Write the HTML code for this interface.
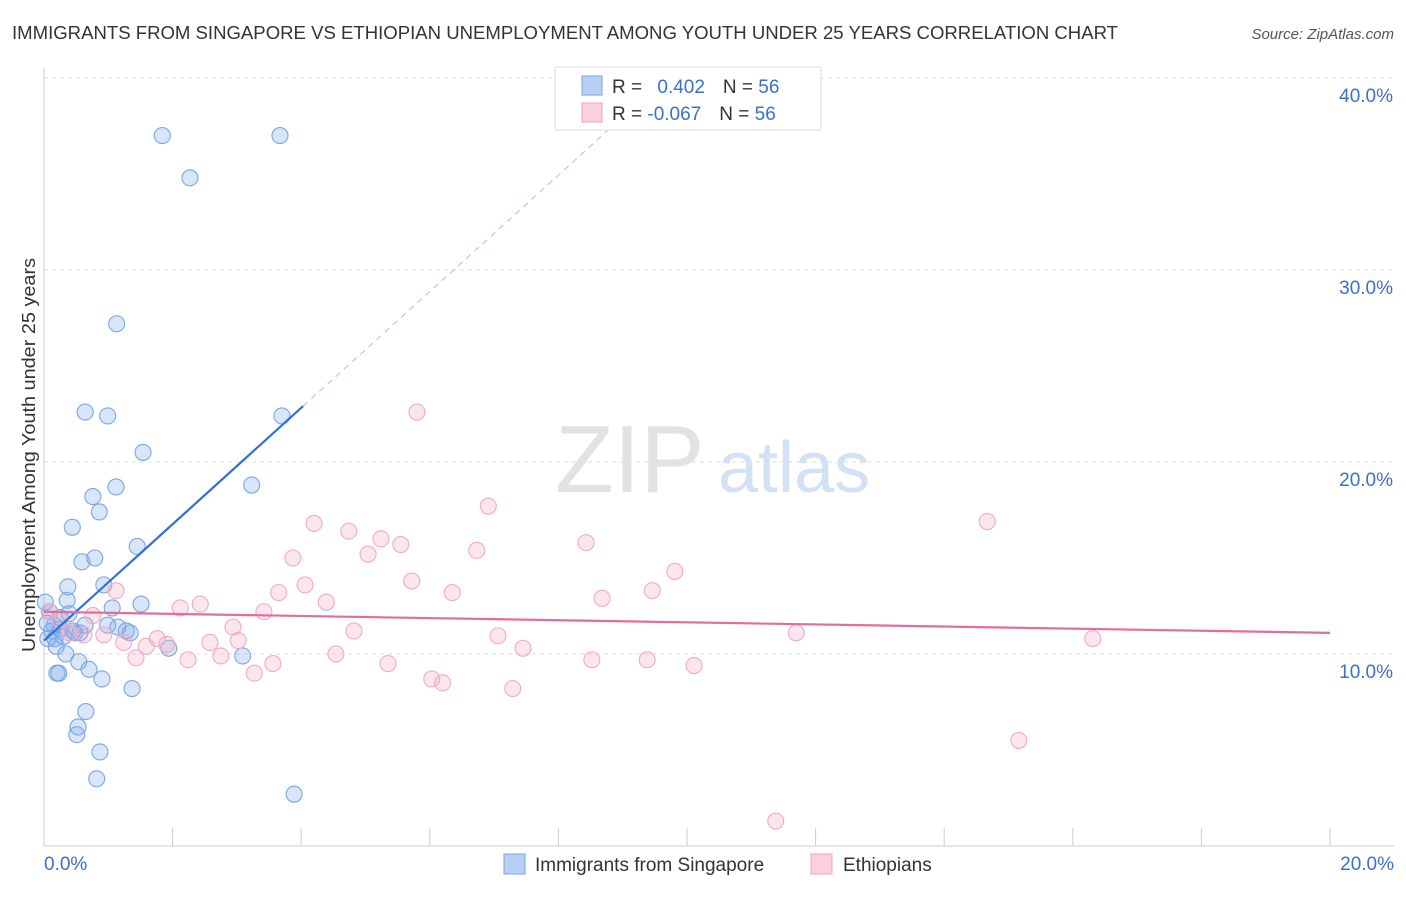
<!DOCTYPE html>
<html><head><meta charset="utf-8"><style>
body{margin:0;background:#fff;font-family:"Liberation Sans",sans-serif;}
svg text{font-family:"Liberation Sans",sans-serif;}
</style></head><body>
<svg width="1406" height="892" xmlns="http://www.w3.org/2000/svg">
<text x="12" y="39" font-size="18" fill="#333" textLength="1106" lengthAdjust="spacingAndGlyphs">IMMIGRANTS FROM SINGAPORE VS ETHIOPIAN UNEMPLOYMENT AMONG YOUTH UNDER 25 YEARS CORRELATION CHART</text>
<text x="1394" y="39" font-size="15" fill="#555" font-style="italic" text-anchor="end">Source: ZipAtlas.com</text>
<g id="grid"></g>
<text x="555" y="492" font-size="96" fill="#e2e2e2" font-family="Liberation Serif">ZIP</text>
<text x="718" y="492" font-size="72" fill="#d3e1f5">atlas</text>
<g id="marks"></g>
<text x="35" y="455" font-size="18" fill="#333" text-anchor="middle" textLength="394" lengthAdjust="spacingAndGlyphs" transform="rotate(-90 35 455)">Unemployment Among Youth under 25 years</text>
<g>
<rect x="555" y="67" width="266" height="63" fill="#fff" stroke="#ddd"/>
<rect x="582" y="76" width="20" height="19" fill="#b8d0f5" stroke="#7aa5e5"/>
<rect x="582" y="103" width="20" height="19" fill="#fbd0dd" stroke="#f0a0bc"/>
<text x="612" y="93" font-size="19" fill="#333">R = <tspan fill="#3a6fd0" dx="10">0.402</tspan><tspan dx="18" fill="#333">N = </tspan><tspan fill="#3a6fd0">56</tspan></text>
<text x="612" y="120" font-size="19" fill="#333">R = <tspan fill="#3a6fd0">-0.067</tspan><tspan dx="18" fill="#333">N = </tspan><tspan fill="#3a6fd0">56</tspan></text>
</g>
<g>
<rect x="504" y="854" width="21" height="20" fill="#b8d0f5" stroke="#7aa5e5"/>
<text x="535" y="871" font-size="19" fill="#333">Immigrants from Singapore</text>
<rect x="811" y="854" width="21" height="20" fill="#fbd0dd" stroke="#f0a0bc"/>
<text x="843" y="871" font-size="19" fill="#333">Ethiopians</text>
</g>
</svg>
<script>
const xTicks=[0,2,4,6,8,10,12,14,16,18,20];
const yTicks=[10,20,30,40];
const yTickLabels=["10.0%","20.0%","30.0%","40.0%"];
const blueX=[1.84,3.67,2.27,1.13,0.64,0.99,3.70,1.54,3.23,0.76,1.12,0.86,0.44,1.45,0.79,0.59,0.37,0.93,0.36,1.06,1.51,0.02,0.09,0.39,0.25,0.64,0.99,1.28,1.34,0.12,0.25,0.48,0.56,0.06,0.17,0.34,1.94,3.09,0.54,0.70,0.20,0.23,0.90,1.37,0.65,0.53,0.51,0.87,0.82,3.89,0.16,0.30,0.45,0.05,1.15,0.19];
const blueY=[37.0,37.0,34.8,27.2,22.6,22.4,22.4,20.5,18.8,18.2,18.7,17.4,16.6,15.6,15.0,14.8,13.5,13.6,12.8,12.4,12.6,12.7,12.2,12.1,11.9,11.5,11.5,11.2,11.1,11.2,11.3,11.1,11.1,10.8,10.8,10.0,10.3,9.9,9.6,9.2,9.0,9.0,8.7,8.2,7.0,6.2,5.8,4.9,3.5,2.7,11.5,10.9,11.2,11.6,11.4,10.4];
const pinkX=[5.80,6.91,14.67,4.20,4.74,5.24,8.43,5.55,6.73,5.04,3.87,9.81,5.72,4.06,6.35,9.46,1.12,3.65,8.68,2.43,4.39,2.12,3.42,0.08,0.76,2.94,4.82,11.70,7.06,16.31,1.76,0.62,0.93,1.24,1.91,2.58,3.02,1.59,7.45,4.54,1.43,2.24,2.75,5.35,8.52,9.38,10.11,3.56,3.27,6.03,6.20,7.29,15.16,11.38,0.25,0.40];
const pinkY=[22.6,17.7,16.9,16.8,16.4,16.0,15.8,15.7,15.4,15.2,15.0,14.3,13.8,13.6,13.2,13.3,13.3,13.2,12.9,12.6,12.7,12.4,12.2,12.2,12.0,11.4,11.2,11.1,10.95,10.8,10.8,11.0,11.0,10.6,10.5,10.6,10.7,10.4,10.3,10.0,9.8,9.7,9.9,9.5,9.7,9.7,9.4,9.5,9.0,8.7,8.5,8.2,5.5,1.3,11.8,11.1];
const blueFit=[10.7,3.03], pinkFit=[12.2,-0.055];
const X=v=>44+64.3*v, Y=v=>846-19.2*v;
const NS="http://www.w3.org/2000/svg";
function mk(t,a,p){const e=document.createElementNS(NS,t);for(const k in a)e.setAttribute(k,a[k]);p.appendChild(e);return e;}
const grid=document.getElementById('grid'), marks=document.getElementById('marks');
yTicks.forEach((v,i)=>{
 const l=mk('line',{x1:44,x2:1394,y1:Y(v),y2:Y(v),stroke:'#ddd','stroke-dasharray':'4 4'},grid);
 
 
 const t=mk('text',{x:1393,y:Y(v)+24,'font-size':19,fill:'#3a6fd0','text-anchor':'end'},grid);t.textContent=yTickLabels[i];
 
 
});
const ax=mk('line',{x1:44,x2:1394,y1:846,y2:846,stroke:'#ccc'},grid);


const ay=mk('line',{x1:44,x2:44,y1:68,y2:846,stroke:'#ccc'},grid);


xTicks.forEach(v=>{const l=mk('line',{x1:X(v),x2:X(v),y1:828,y2:846,stroke:'#ccc'},grid);
 
 });
const t0=mk('text',{x:44,y:870,'font-size':19,fill:'#3a6fd0'},grid);t0.textContent='0.0%';


const t1=mk('text',{x:1394,y:870,'font-size':19,fill:'#3a6fd0','text-anchor':'end'},grid);t1.textContent='20.0%';


function pts(xs,ys,fill,stroke,name){xs.forEach((x,i)=>{const c=mk('circle',{cx:X(x),cy:Y(ys[i]),r:8,fill:fill,stroke:stroke,'stroke-width':1.1},marks);
 
 });}
pts(blueX,blueY,'rgba(120,165,235,0.28)','#7aa5e5','singapore-point');
pts(pinkX,pinkY,'rgba(245,165,195,0.28)','#f0aac4','ethiopian-point');
const bl=mk('line',{x1:X(0),y1:Y(blueFit[0]),x2:X(4.03),y2:Y(blueFit[0]+blueFit[1]*4.03),stroke:'#2f6fd6','stroke-width':2.2},marks);


const bd=mk('line',{x1:X(4.03),y1:Y(blueFit[0]+blueFit[1]*4.03),x2:X(8.9),y2:Y(blueFit[0]+blueFit[1]*8.9),stroke:'#a6c0e8','stroke-width':1,'stroke-dasharray':'6 5'},marks);


const pl=mk('line',{x1:X(0),y1:Y(pinkFit[0]),x2:X(20),y2:Y(pinkFit[0]+pinkFit[1]*20),stroke:'#e56b9a','stroke-width':2.2},marks);


</script>
</body></html>
